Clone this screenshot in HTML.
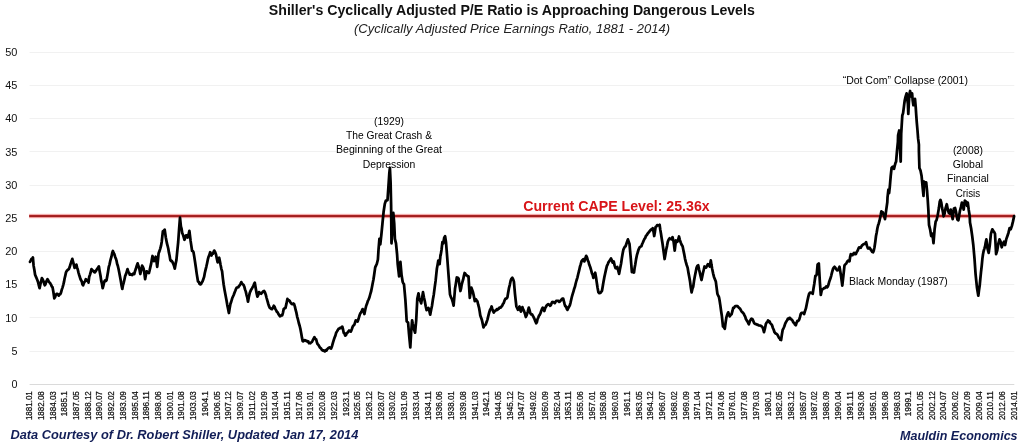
<!DOCTYPE html>
<html lang="en"><head><meta charset="utf-8"><title>Shiller CAPE</title>
<style>
html,body{margin:0;padding:0;background:#fff;}
body{width:1022px;height:444px;overflow:hidden;}
svg{display:block;font-family:"Liberation Sans",sans-serif;}
.ax{font-size:11.3px;fill:#111;}
.xl{font-size:9.3px;fill:#111;stroke:#111;stroke-width:0.25px;}
.an{font-size:11px;fill:#000;text-anchor:middle;}
.ttl{font-size:14.3px;font-weight:bold;fill:#111;}
.sub{font-size:12.3px;font-style:italic;fill:#222;}
.cape{font-size:14.3px;font-weight:bold;fill:#d81418;}
.ft{font-size:13.2px;font-weight:bold;font-style:italic;fill:#121e57;}
</style></head><body>
<svg width="1022" height="444" viewBox="0 0 1022 444">
<rect width="1022" height="444" fill="#ffffff"/>
<line x1="29.6" y1="351.5" x2="1014.3" y2="351.5" stroke="#f1f1f1" stroke-width="1"/>
<line x1="29.6" y1="317.5" x2="1014.3" y2="317.5" stroke="#f1f1f1" stroke-width="1"/>
<line x1="29.6" y1="284.5" x2="1014.3" y2="284.5" stroke="#f1f1f1" stroke-width="1"/>
<line x1="29.6" y1="251.5" x2="1014.3" y2="251.5" stroke="#f1f1f1" stroke-width="1"/>
<line x1="29.6" y1="218.5" x2="1014.3" y2="218.5" stroke="#f1f1f1" stroke-width="1"/>
<line x1="29.6" y1="185.5" x2="1014.3" y2="185.5" stroke="#f1f1f1" stroke-width="1"/>
<line x1="29.6" y1="151.5" x2="1014.3" y2="151.5" stroke="#f1f1f1" stroke-width="1"/>
<line x1="29.6" y1="118.5" x2="1014.3" y2="118.5" stroke="#f1f1f1" stroke-width="1"/>
<line x1="29.6" y1="85.5" x2="1014.3" y2="85.5" stroke="#f1f1f1" stroke-width="1"/>
<line x1="29.6" y1="52.5" x2="1014.3" y2="52.5" stroke="#f1f1f1" stroke-width="1"/>
<line x1="29.6" y1="384.5" x2="1014.3" y2="384.5" stroke="#dadada" stroke-width="1"/>
<text class="ax" x="17.4" y="387.9" text-anchor="end" textLength="6.0" lengthAdjust="spacingAndGlyphs">0</text>
<text class="ax" x="17.4" y="354.7" text-anchor="end" textLength="6.0" lengthAdjust="spacingAndGlyphs">5</text>
<text class="ax" x="17.4" y="321.5" text-anchor="end" textLength="12.2" lengthAdjust="spacingAndGlyphs">10</text>
<text class="ax" x="17.4" y="288.3" text-anchor="end" textLength="12.2" lengthAdjust="spacingAndGlyphs">15</text>
<text class="ax" x="17.4" y="255.1" text-anchor="end" textLength="12.2" lengthAdjust="spacingAndGlyphs">20</text>
<text class="ax" x="17.4" y="221.9" text-anchor="end" textLength="12.2" lengthAdjust="spacingAndGlyphs">25</text>
<text class="ax" x="17.4" y="188.8" text-anchor="end" textLength="12.2" lengthAdjust="spacingAndGlyphs">30</text>
<text class="ax" x="17.4" y="155.6" text-anchor="end" textLength="12.2" lengthAdjust="spacingAndGlyphs">35</text>
<text class="ax" x="17.4" y="122.4" text-anchor="end" textLength="12.2" lengthAdjust="spacingAndGlyphs">40</text>
<text class="ax" x="17.4" y="89.2" text-anchor="end" textLength="12.2" lengthAdjust="spacingAndGlyphs">45</text>
<text class="ax" x="17.4" y="56.0" text-anchor="end" textLength="12.2" lengthAdjust="spacingAndGlyphs">50</text>
<text class="xl" transform="translate(32.05,391.2) rotate(-90)" text-anchor="end" textLength="28.9" lengthAdjust="spacingAndGlyphs">1881.01</text>
<text class="xl" transform="translate(43.77,391.2) rotate(-90)" text-anchor="end" textLength="28.9" lengthAdjust="spacingAndGlyphs">1882.08</text>
<text class="xl" transform="translate(55.50,391.2) rotate(-90)" text-anchor="end" textLength="28.9" lengthAdjust="spacingAndGlyphs">1884.03</text>
<text class="xl" transform="translate(67.22,391.2) rotate(-90)" text-anchor="end" textLength="25.0" lengthAdjust="spacingAndGlyphs">1885.1</text>
<text class="xl" transform="translate(78.94,391.2) rotate(-90)" text-anchor="end" textLength="28.9" lengthAdjust="spacingAndGlyphs">1887.05</text>
<text class="xl" transform="translate(90.66,391.2) rotate(-90)" text-anchor="end" textLength="28.9" lengthAdjust="spacingAndGlyphs">1888.12</text>
<text class="xl" transform="translate(102.39,391.2) rotate(-90)" text-anchor="end" textLength="28.9" lengthAdjust="spacingAndGlyphs">1890.07</text>
<text class="xl" transform="translate(114.11,391.2) rotate(-90)" text-anchor="end" textLength="28.9" lengthAdjust="spacingAndGlyphs">1892.02</text>
<text class="xl" transform="translate(125.83,391.2) rotate(-90)" text-anchor="end" textLength="28.9" lengthAdjust="spacingAndGlyphs">1893.09</text>
<text class="xl" transform="translate(137.55,391.2) rotate(-90)" text-anchor="end" textLength="28.9" lengthAdjust="spacingAndGlyphs">1895.04</text>
<text class="xl" transform="translate(149.28,391.2) rotate(-90)" text-anchor="end" textLength="28.9" lengthAdjust="spacingAndGlyphs">1896.11</text>
<text class="xl" transform="translate(161.00,391.2) rotate(-90)" text-anchor="end" textLength="28.9" lengthAdjust="spacingAndGlyphs">1898.06</text>
<text class="xl" transform="translate(172.72,391.2) rotate(-90)" text-anchor="end" textLength="28.9" lengthAdjust="spacingAndGlyphs">1900.01</text>
<text class="xl" transform="translate(184.44,391.2) rotate(-90)" text-anchor="end" textLength="28.9" lengthAdjust="spacingAndGlyphs">1901.08</text>
<text class="xl" transform="translate(196.17,391.2) rotate(-90)" text-anchor="end" textLength="28.9" lengthAdjust="spacingAndGlyphs">1903.03</text>
<text class="xl" transform="translate(207.89,391.2) rotate(-90)" text-anchor="end" textLength="25.0" lengthAdjust="spacingAndGlyphs">1904.1</text>
<text class="xl" transform="translate(219.61,391.2) rotate(-90)" text-anchor="end" textLength="28.9" lengthAdjust="spacingAndGlyphs">1906.05</text>
<text class="xl" transform="translate(231.33,391.2) rotate(-90)" text-anchor="end" textLength="28.9" lengthAdjust="spacingAndGlyphs">1907.12</text>
<text class="xl" transform="translate(243.06,391.2) rotate(-90)" text-anchor="end" textLength="28.9" lengthAdjust="spacingAndGlyphs">1909.07</text>
<text class="xl" transform="translate(254.78,391.2) rotate(-90)" text-anchor="end" textLength="28.9" lengthAdjust="spacingAndGlyphs">1911.02</text>
<text class="xl" transform="translate(266.50,391.2) rotate(-90)" text-anchor="end" textLength="28.9" lengthAdjust="spacingAndGlyphs">1912.09</text>
<text class="xl" transform="translate(278.22,391.2) rotate(-90)" text-anchor="end" textLength="28.9" lengthAdjust="spacingAndGlyphs">1914.04</text>
<text class="xl" transform="translate(289.95,391.2) rotate(-90)" text-anchor="end" textLength="28.9" lengthAdjust="spacingAndGlyphs">1915.11</text>
<text class="xl" transform="translate(301.67,391.2) rotate(-90)" text-anchor="end" textLength="28.9" lengthAdjust="spacingAndGlyphs">1917.06</text>
<text class="xl" transform="translate(313.39,391.2) rotate(-90)" text-anchor="end" textLength="28.9" lengthAdjust="spacingAndGlyphs">1919.01</text>
<text class="xl" transform="translate(325.12,391.2) rotate(-90)" text-anchor="end" textLength="28.9" lengthAdjust="spacingAndGlyphs">1920.08</text>
<text class="xl" transform="translate(336.84,391.2) rotate(-90)" text-anchor="end" textLength="28.9" lengthAdjust="spacingAndGlyphs">1922.03</text>
<text class="xl" transform="translate(348.56,391.2) rotate(-90)" text-anchor="end" textLength="25.0" lengthAdjust="spacingAndGlyphs">1923.1</text>
<text class="xl" transform="translate(360.28,391.2) rotate(-90)" text-anchor="end" textLength="28.9" lengthAdjust="spacingAndGlyphs">1925.05</text>
<text class="xl" transform="translate(372.01,391.2) rotate(-90)" text-anchor="end" textLength="28.9" lengthAdjust="spacingAndGlyphs">1926.12</text>
<text class="xl" transform="translate(383.73,391.2) rotate(-90)" text-anchor="end" textLength="28.9" lengthAdjust="spacingAndGlyphs">1928.07</text>
<text class="xl" transform="translate(395.45,391.2) rotate(-90)" text-anchor="end" textLength="28.9" lengthAdjust="spacingAndGlyphs">1930.02</text>
<text class="xl" transform="translate(407.17,391.2) rotate(-90)" text-anchor="end" textLength="28.9" lengthAdjust="spacingAndGlyphs">1931.09</text>
<text class="xl" transform="translate(418.90,391.2) rotate(-90)" text-anchor="end" textLength="28.9" lengthAdjust="spacingAndGlyphs">1933.04</text>
<text class="xl" transform="translate(430.62,391.2) rotate(-90)" text-anchor="end" textLength="28.9" lengthAdjust="spacingAndGlyphs">1934.11</text>
<text class="xl" transform="translate(442.34,391.2) rotate(-90)" text-anchor="end" textLength="28.9" lengthAdjust="spacingAndGlyphs">1936.06</text>
<text class="xl" transform="translate(454.06,391.2) rotate(-90)" text-anchor="end" textLength="28.9" lengthAdjust="spacingAndGlyphs">1938.01</text>
<text class="xl" transform="translate(465.79,391.2) rotate(-90)" text-anchor="end" textLength="28.9" lengthAdjust="spacingAndGlyphs">1939.08</text>
<text class="xl" transform="translate(477.51,391.2) rotate(-90)" text-anchor="end" textLength="28.9" lengthAdjust="spacingAndGlyphs">1941.03</text>
<text class="xl" transform="translate(489.23,391.2) rotate(-90)" text-anchor="end" textLength="25.0" lengthAdjust="spacingAndGlyphs">1942.1</text>
<text class="xl" transform="translate(500.95,391.2) rotate(-90)" text-anchor="end" textLength="28.9" lengthAdjust="spacingAndGlyphs">1944.05</text>
<text class="xl" transform="translate(512.68,391.2) rotate(-90)" text-anchor="end" textLength="28.9" lengthAdjust="spacingAndGlyphs">1945.12</text>
<text class="xl" transform="translate(524.40,391.2) rotate(-90)" text-anchor="end" textLength="28.9" lengthAdjust="spacingAndGlyphs">1947.07</text>
<text class="xl" transform="translate(536.12,391.2) rotate(-90)" text-anchor="end" textLength="28.9" lengthAdjust="spacingAndGlyphs">1949.02</text>
<text class="xl" transform="translate(547.85,391.2) rotate(-90)" text-anchor="end" textLength="28.9" lengthAdjust="spacingAndGlyphs">1950.09</text>
<text class="xl" transform="translate(559.57,391.2) rotate(-90)" text-anchor="end" textLength="28.9" lengthAdjust="spacingAndGlyphs">1952.04</text>
<text class="xl" transform="translate(571.29,391.2) rotate(-90)" text-anchor="end" textLength="28.9" lengthAdjust="spacingAndGlyphs">1953.11</text>
<text class="xl" transform="translate(583.01,391.2) rotate(-90)" text-anchor="end" textLength="28.9" lengthAdjust="spacingAndGlyphs">1955.06</text>
<text class="xl" transform="translate(594.74,391.2) rotate(-90)" text-anchor="end" textLength="28.9" lengthAdjust="spacingAndGlyphs">1957.01</text>
<text class="xl" transform="translate(606.46,391.2) rotate(-90)" text-anchor="end" textLength="28.9" lengthAdjust="spacingAndGlyphs">1958.08</text>
<text class="xl" transform="translate(618.18,391.2) rotate(-90)" text-anchor="end" textLength="28.9" lengthAdjust="spacingAndGlyphs">1960.03</text>
<text class="xl" transform="translate(629.90,391.2) rotate(-90)" text-anchor="end" textLength="25.0" lengthAdjust="spacingAndGlyphs">1961.1</text>
<text class="xl" transform="translate(641.63,391.2) rotate(-90)" text-anchor="end" textLength="28.9" lengthAdjust="spacingAndGlyphs">1963.05</text>
<text class="xl" transform="translate(653.35,391.2) rotate(-90)" text-anchor="end" textLength="28.9" lengthAdjust="spacingAndGlyphs">1964.12</text>
<text class="xl" transform="translate(665.07,391.2) rotate(-90)" text-anchor="end" textLength="28.9" lengthAdjust="spacingAndGlyphs">1966.07</text>
<text class="xl" transform="translate(676.79,391.2) rotate(-90)" text-anchor="end" textLength="28.9" lengthAdjust="spacingAndGlyphs">1968.02</text>
<text class="xl" transform="translate(688.52,391.2) rotate(-90)" text-anchor="end" textLength="28.9" lengthAdjust="spacingAndGlyphs">1969.09</text>
<text class="xl" transform="translate(700.24,391.2) rotate(-90)" text-anchor="end" textLength="28.9" lengthAdjust="spacingAndGlyphs">1971.04</text>
<text class="xl" transform="translate(711.96,391.2) rotate(-90)" text-anchor="end" textLength="28.9" lengthAdjust="spacingAndGlyphs">1972.11</text>
<text class="xl" transform="translate(723.68,391.2) rotate(-90)" text-anchor="end" textLength="28.9" lengthAdjust="spacingAndGlyphs">1974.06</text>
<text class="xl" transform="translate(735.41,391.2) rotate(-90)" text-anchor="end" textLength="28.9" lengthAdjust="spacingAndGlyphs">1976.01</text>
<text class="xl" transform="translate(747.13,391.2) rotate(-90)" text-anchor="end" textLength="28.9" lengthAdjust="spacingAndGlyphs">1977.08</text>
<text class="xl" transform="translate(758.85,391.2) rotate(-90)" text-anchor="end" textLength="28.9" lengthAdjust="spacingAndGlyphs">1979.03</text>
<text class="xl" transform="translate(770.58,391.2) rotate(-90)" text-anchor="end" textLength="25.0" lengthAdjust="spacingAndGlyphs">1980.1</text>
<text class="xl" transform="translate(782.30,391.2) rotate(-90)" text-anchor="end" textLength="28.9" lengthAdjust="spacingAndGlyphs">1982.05</text>
<text class="xl" transform="translate(794.02,391.2) rotate(-90)" text-anchor="end" textLength="28.9" lengthAdjust="spacingAndGlyphs">1983.12</text>
<text class="xl" transform="translate(805.74,391.2) rotate(-90)" text-anchor="end" textLength="28.9" lengthAdjust="spacingAndGlyphs">1985.07</text>
<text class="xl" transform="translate(817.47,391.2) rotate(-90)" text-anchor="end" textLength="28.9" lengthAdjust="spacingAndGlyphs">1987.02</text>
<text class="xl" transform="translate(829.19,391.2) rotate(-90)" text-anchor="end" textLength="28.9" lengthAdjust="spacingAndGlyphs">1988.09</text>
<text class="xl" transform="translate(840.91,391.2) rotate(-90)" text-anchor="end" textLength="28.9" lengthAdjust="spacingAndGlyphs">1990.04</text>
<text class="xl" transform="translate(852.63,391.2) rotate(-90)" text-anchor="end" textLength="28.9" lengthAdjust="spacingAndGlyphs">1991.11</text>
<text class="xl" transform="translate(864.36,391.2) rotate(-90)" text-anchor="end" textLength="28.9" lengthAdjust="spacingAndGlyphs">1993.06</text>
<text class="xl" transform="translate(876.08,391.2) rotate(-90)" text-anchor="end" textLength="28.9" lengthAdjust="spacingAndGlyphs">1995.01</text>
<text class="xl" transform="translate(887.80,391.2) rotate(-90)" text-anchor="end" textLength="28.9" lengthAdjust="spacingAndGlyphs">1996.08</text>
<text class="xl" transform="translate(899.52,391.2) rotate(-90)" text-anchor="end" textLength="28.9" lengthAdjust="spacingAndGlyphs">1998.03</text>
<text class="xl" transform="translate(911.25,391.2) rotate(-90)" text-anchor="end" textLength="25.0" lengthAdjust="spacingAndGlyphs">1999.1</text>
<text class="xl" transform="translate(922.97,391.2) rotate(-90)" text-anchor="end" textLength="28.9" lengthAdjust="spacingAndGlyphs">2001.05</text>
<text class="xl" transform="translate(934.69,391.2) rotate(-90)" text-anchor="end" textLength="28.9" lengthAdjust="spacingAndGlyphs">2002.12</text>
<text class="xl" transform="translate(946.41,391.2) rotate(-90)" text-anchor="end" textLength="28.9" lengthAdjust="spacingAndGlyphs">2004.07</text>
<text class="xl" transform="translate(958.14,391.2) rotate(-90)" text-anchor="end" textLength="28.9" lengthAdjust="spacingAndGlyphs">2006.02</text>
<text class="xl" transform="translate(969.86,391.2) rotate(-90)" text-anchor="end" textLength="28.9" lengthAdjust="spacingAndGlyphs">2007.09</text>
<text class="xl" transform="translate(981.58,391.2) rotate(-90)" text-anchor="end" textLength="28.9" lengthAdjust="spacingAndGlyphs">2009.04</text>
<text class="xl" transform="translate(993.30,391.2) rotate(-90)" text-anchor="end" textLength="28.9" lengthAdjust="spacingAndGlyphs">2010.11</text>
<text class="xl" transform="translate(1005.03,391.2) rotate(-90)" text-anchor="end" textLength="28.9" lengthAdjust="spacingAndGlyphs">2012.06</text>
<text class="xl" transform="translate(1016.75,391.2) rotate(-90)" text-anchor="end" textLength="28.9" lengthAdjust="spacingAndGlyphs">2014.01</text>
<rect x="29.1" y="213" width="985.9" height="1" fill="#fff2f2"/>
<rect x="29.1" y="214" width="985.9" height="1" fill="#f2acac"/>
<rect x="29.1" y="215" width="985.9" height="1" fill="#aa2222"/>
<rect x="29.1" y="216" width="985.9" height="1" fill="#a01e1e"/>
<rect x="29.1" y="217" width="985.9" height="1" fill="#f09c9c"/>
<rect x="29.1" y="218" width="985.9" height="1" fill="#ffeeee"/>
<path d="M30.0 261.9 L30.7 260.5 L31.4 259.1 L32.2 258.7 L32.9 257.4 L33.6 265.7 L34.3 269.6 L35.1 274.7 L35.9 276.6 L36.6 278.3 L37.4 280.3 L38.1 282.3 L38.9 285.6 L39.6 288.2 L40.4 284.2 L41.1 281.4 L41.9 278.1 L42.6 279.3 L43.4 281.1 L44.1 283.4 L44.8 285.3 L45.5 284.2 L46.2 281.7 L46.9 280.3 L47.5 279.2 L48.3 280.5 L49.0 282.1 L49.8 282.6 L50.5 283.8 L51.1 284.7 L51.8 286.6 L52.5 287.1 L53.4 292.1 L54.3 298.3 L55.0 297.3 L55.8 295.1 L56.5 293.8 L57.3 293.9 L58.0 294.5 L58.8 295.6 L59.5 294.4 L60.3 294.1 L61.0 292.7 L61.8 289.6 L62.5 287.6 L63.3 284.8 L64.0 281.9 L64.6 278.5 L65.3 275.6 L66.0 272.4 L66.7 271.0 L67.5 270.1 L68.2 269.5 L68.9 269.1 L69.6 267.3 L70.3 264.9 L71.0 262.7 L71.6 261.1 L72.3 258.9 L73.1 261.9 L73.8 264.7 L74.6 267.9 L75.5 266.7 L76.4 264.6 L77.0 267.4 L77.7 269.3 L78.4 272.3 L79.1 274.7 L79.7 276.5 L80.4 278.8 L81.1 280.3 L81.8 281.5 L82.4 284.2 L83.1 285.3 L83.8 283.2 L84.5 282.1 L85.1 281.1 L85.8 279.2 L86.5 279.6 L87.2 280.9 L87.9 281.1 L88.5 282.6 L89.2 276.9 L90.0 274.6 L90.7 272.1 L91.5 269.1 L92.1 269.8 L92.8 270.9 L93.5 270.8 L94.2 272.0 L94.8 272.4 L95.6 271.4 L96.3 270.3 L97.1 269.1 L98.0 267.7 L98.9 266.4 L99.7 271.6 L100.5 275.8 L101.2 280.6 L102.0 284.0 L102.7 288.2 L103.5 285.1 L104.3 281.5 L105.0 280.5 L105.8 281.0 L106.5 280.3 L107.3 276.0 L108.0 272.0 L108.8 266.8 L109.5 264.6 L110.2 261.3 L110.8 258.8 L111.5 256.5 L112.2 253.0 L112.9 251.0 L113.6 252.9 L114.4 254.3 L115.1 256.7 L115.8 258.4 L116.5 260.6 L117.1 263.8 L117.8 265.7 L118.5 268.8 L119.3 272.7 L120.0 276.5 L120.7 280.3 L121.5 285.1 L122.3 288.9 L123.0 285.0 L123.8 282.3 L124.5 279.2 L125.2 275.8 L126.0 274.1 L126.7 271.8 L127.5 269.1 L128.2 271.5 L129.0 272.5 L129.8 274.7 L130.4 274.5 L131.0 274.3 L131.7 274.9 L132.3 275.0 L133.0 273.7 L133.6 273.7 L134.3 274.0 L135.0 271.2 L135.8 269.1 L136.7 265.9 L137.6 263.4 L138.5 266.2 L139.4 269.1 L140.3 274.0 L141.2 270.0 L142.1 265.7 L142.9 267.0 L143.7 269.1 L144.4 273.4 L145.1 279.2 L145.9 275.1 L146.6 271.3 L147.4 271.7 L148.1 272.6 L148.9 273.1 L149.6 270.5 L150.4 266.9 L151.2 263.4 L151.8 259.7 L152.5 256.0 L153.2 258.8 L153.9 261.2 L154.8 259.2 L155.7 256.7 L156.4 261.1 L157.2 266.8 L157.9 260.6 L158.6 253.3 L159.4 251.4 L160.2 248.8 L161.0 245.9 L161.7 242.0 L162.9 231.2 L163.8 230.8 L164.7 229.6 L165.8 237.5 L166.9 243.2 L167.6 245.8 L168.3 248.8 L168.9 252.4 L169.6 255.7 L170.3 260.1 L171.0 261.0 L171.8 260.9 L172.6 262.3 L173.3 263.8 L174.1 266.1 L174.8 268.6 L175.6 263.9 L176.4 260.1 L177.3 250.8 L178.2 242.0 L179.1 229.2 L180.0 217.7 L180.9 226.3 L181.6 228.9 L182.2 233.0 L183.0 234.8 L183.7 237.0 L184.5 239.8 L185.3 237.3 L186.1 235.3 L186.9 235.7 L187.6 237.5 L188.5 234.7 L189.4 230.8 L190.6 240.9 L191.4 246.1 L192.1 251.0 L192.8 251.1 L193.5 252.2 L194.3 256.9 L195.1 262.3 L195.9 267.7 L196.7 273.6 L197.3 277.3 L198.0 281.5 L198.8 281.9 L199.5 283.9 L200.3 284.4 L201.0 284.1 L201.8 282.4 L202.5 281.5 L203.3 279.2 L204.1 276.9 L204.8 273.0 L205.6 269.6 L206.3 266.8 L207.1 263.2 L207.8 259.7 L208.6 256.7 L209.4 254.9 L210.2 252.2 L210.8 253.4 L211.5 255.5 L212.2 253.6 L212.9 253.7 L213.6 251.9 L214.2 250.6 L215.1 252.0 L216.0 254.4 L216.8 258.4 L217.6 262.3 L218.4 259.4 L219.2 257.8 L219.9 261.2 L220.5 264.6 L221.3 268.6 L222.1 271.3 L222.9 278.6 L223.7 284.8 L224.6 290.2 L225.5 295.0 L226.4 299.7 L227.3 305.1 L228.1 308.9 L228.9 313.0 L229.7 308.0 L230.4 304.0 L231.3 301.5 L232.2 298.3 L233.0 296.5 L233.7 295.0 L234.5 292.7 L235.3 290.8 L236.0 288.9 L236.8 287.5 L237.5 287.4 L238.3 287.2 L239.0 286.0 L239.8 285.2 L240.5 283.8 L241.3 282.1 L242.0 283.5 L242.8 284.3 L243.5 284.8 L244.3 286.7 L245.0 289.4 L245.8 291.6 L246.5 294.8 L247.3 297.7 L248.0 301.7 L248.9 296.6 L249.8 292.7 L250.6 290.9 L251.3 289.4 L252.1 288.2 L252.7 287.1 L253.4 286.0 L254.1 283.9 L254.8 282.6 L255.8 288.8 L256.6 293.3 L257.4 296.7 L258.2 295.1 L259.0 292.2 L259.7 293.3 L260.5 293.0 L261.2 293.7 L262.0 292.7 L262.7 292.0 L263.4 291.3 L264.1 291.0 L264.9 292.3 L265.7 294.4 L266.6 298.0 L267.5 301.2 L268.3 304.0 L269.0 306.2 L269.8 307.9 L270.5 308.3 L271.3 308.9 L272.0 309.1 L272.9 307.8 L273.8 305.7 L274.6 306.8 L275.4 309.1 L276.2 310.4 L276.9 311.9 L277.7 312.4 L278.4 314.1 L279.2 315.3 L279.9 316.3 L280.7 315.9 L281.4 315.2 L282.2 315.4 L283.0 312.6 L283.7 309.1 L284.6 308.3 L285.5 307.9 L286.4 303.9 L287.4 298.9 L288.1 300.2 L288.9 300.1 L289.7 301.0 L290.4 302.2 L291.2 303.4 L291.9 304.2 L292.6 304.1 L293.4 303.5 L294.1 304.1 L294.9 306.6 L295.7 310.2 L296.4 312.7 L297.2 316.8 L297.9 319.2 L298.8 323.0 L299.7 326.0 L300.5 329.4 L301.3 333.8 L302.0 337.9 L302.7 341.1 L303.3 341.4 L304.0 340.7 L304.7 340.2 L305.4 340.3 L306.2 341.0 L306.9 340.8 L307.6 341.7 L308.3 341.4 L309.0 343.2 L309.7 343.1 L310.3 343.3 L311.1 342.4 L311.8 342.1 L312.6 340.6 L313.5 338.8 L314.4 337.2 L315.3 338.9 L316.2 339.5 L316.9 342.2 L317.5 344.0 L318.3 344.7 L319.0 345.9 L319.8 347.4 L320.5 348.0 L321.3 348.8 L322.0 350.1 L322.8 350.5 L323.5 350.4 L324.2 351.0 L325.0 351.4 L325.7 350.1 L326.5 350.5 L327.2 349.2 L328.0 348.4 L328.7 347.9 L329.5 347.4 L330.3 348.0 L331.1 348.5 L332.0 346.2 L332.9 342.9 L333.8 339.9 L334.7 337.2 L335.4 335.6 L336.2 332.7 L337.0 331.4 L337.7 330.2 L338.5 328.9 L339.2 328.7 L340.0 327.8 L340.7 328.2 L341.5 327.3 L342.3 326.6 L343.0 329.2 L343.7 332.7 L344.5 333.5 L345.2 335.6 L346.0 335.1 L346.7 333.2 L347.5 332.7 L348.3 331.6 L349.1 330.5 L350.0 331.3 L350.9 331.6 L351.8 329.2 L352.7 326.6 L353.5 325.5 L354.3 324.8 L355.0 322.6 L355.8 320.3 L356.7 321.0 L357.6 321.5 L358.5 319.0 L359.4 315.8 L360.2 313.6 L361.0 312.4 L361.8 310.8 L362.6 309.1 L363.5 311.2 L364.4 314.0 L365.3 309.5 L366.2 305.7 L367.0 303.8 L367.8 301.2 L368.6 299.5 L369.3 297.8 L370.2 294.5 L371.2 291.0 L371.9 287.5 L372.7 283.2 L373.4 279.8 L374.1 275.3 L375.2 267.4 L376.0 265.6 L376.8 264.0 L377.9 259.5 L378.5 250.0 L379.4 238.8 L380.3 244.4 L381.4 234.3 L382.5 223.0 L383.6 211.8 L384.8 203.9 L385.9 200.5 L386.7 200.4 L387.5 200.1 L388.4 187.0 L389.3 173.5 L389.9 167.9 L390.6 182.5 L391.1 205.0 L391.5 243.3 L392.4 227.5 L393.3 212.9 L394.2 223.0 L394.9 238.8 L396.0 243.3 L397.1 254.5 L397.7 264.0 L398.4 270.2 L399.1 276.4 L399.8 269.1 L400.4 261.8 L401.6 275.3 L402.7 282.0 L403.4 283.4 L404.0 284.3 L404.7 292.1 L405.4 300.1 L406.1 310.8 L406.7 321.5 L407.4 322.0 L408.1 322.6 L409.0 333.8 L409.7 341.2 L410.3 347.4 L411.2 331.6 L412.1 320.3 L412.8 324.0 L413.5 327.1 L414.3 330.4 L415.1 332.7 L416.2 320.3 L417.3 298.9 L418.5 293.3 L419.1 297.3 L419.8 300.1 L420.5 301.4 L421.2 303.4 L422.1 297.9 L423.0 292.2 L423.9 297.3 L424.8 301.2 L425.7 306.2 L426.6 310.2 L427.5 308.6 L428.4 307.9 L429.3 310.8 L430.2 314.7 L431.1 310.1 L432.0 305.7 L432.9 299.5 L433.8 294.4 L434.7 287.3 L435.6 280.9 L436.3 274.1 L436.9 268.5 L437.6 264.8 L438.3 260.6 L439.0 262.7 L439.6 264.0 L440.5 255.0 L440.6 255.6 L441.5 250.0 L442.4 242.1 L443.3 243.3 L444.2 237.6 L445.1 236.1 L446.0 242.1 L446.9 253.4 L447.7 264.0 L448.9 279.8 L450.0 294.4 L450.9 297.2 L451.8 298.9 L452.7 301.8 L453.6 305.7 L454.3 297.5 L455.0 288.8 L455.9 283.4 L456.8 277.5 L457.7 277.6 L458.6 278.7 L459.5 285.4 L460.4 291.0 L461.0 288.7 L461.7 284.6 L462.4 282.0 L463.1 279.7 L463.9 275.9 L464.6 273.0 L465.4 273.8 L466.1 275.2 L466.9 275.3 L467.7 276.3 L468.5 276.4 L469.1 286.6 L469.8 297.8 L470.6 292.6 L471.4 287.7 L472.2 289.9 L473.0 292.2 L473.9 296.4 L474.8 301.2 L475.1 299.0 L475.9 299.3 L476.6 300.3 L477.4 301.3 L478.2 304.7 L479.0 307.6 L479.6 310.9 L480.3 315.5 L481.1 317.8 L481.9 320.0 L482.7 323.6 L483.5 327.4 L484.2 325.8 L485.0 325.2 L485.7 324.5 L486.6 322.1 L487.5 319.3 L488.4 315.7 L489.3 312.1 L490.1 309.6 L490.8 309.0 L491.6 306.5 L492.3 308.9 L493.1 311.2 L493.8 312.5 L494.6 311.2 L495.3 310.7 L496.1 310.3 L496.8 309.2 L497.4 309.9 L498.1 308.8 L498.8 308.7 L499.5 307.6 L500.1 307.5 L500.8 307.6 L501.5 306.5 L502.2 305.8 L503.0 303.9 L503.7 303.1 L504.6 300.3 L505.5 298.6 L506.4 298.6 L507.4 297.4 L508.1 293.0 L508.9 288.4 L509.8 284.8 L510.7 280.5 L511.5 278.6 L512.3 277.8 L513.1 279.1 L513.9 281.7 L515.0 294.1 L515.7 300.5 L516.4 306.5 L517.1 308.0 L517.9 309.8 L518.7 307.5 L519.5 306.5 L520.2 309.7 L520.9 311.6 L521.7 309.6 L522.4 307.1 L523.2 309.5 L524.0 311.0 L524.9 313.4 L525.8 317.0 L526.7 315.1 L527.6 312.1 L528.8 307.6 L529.5 309.8 L530.3 313.2 L531.2 314.3 L532.1 314.3 L532.9 315.8 L533.6 317.1 L534.4 318.8 L535.3 321.2 L536.2 323.3 L536.9 322.1 L537.5 319.3 L538.2 317.7 L539.0 315.7 L539.7 314.8 L540.5 313.2 L541.2 311.0 L542.0 308.9 L542.7 307.6 L543.5 308.8 L544.3 311.0 L545.2 308.1 L546.1 306.5 L546.8 305.3 L547.6 304.7 L548.3 304.2 L549.3 304.7 L550.2 305.8 L550.9 304.9 L551.7 302.9 L552.4 301.9 L553.2 302.3 L553.9 302.2 L554.7 303.1 L555.4 302.1 L556.2 300.9 L556.9 300.8 L557.7 300.8 L558.4 300.9 L559.2 301.9 L559.9 301.5 L560.7 300.5 L561.4 299.7 L562.3 298.7 L563.2 298.6 L563.9 301.4 L564.6 304.2 L565.3 306.2 L566.0 306.5 L566.8 308.9 L567.5 309.8 L568.2 308.2 L569.0 306.8 L569.8 305.3 L570.5 302.8 L571.3 299.2 L572.0 296.3 L572.8 293.7 L573.5 291.3 L574.3 288.4 L575.0 286.5 L575.8 283.0 L576.5 280.5 L577.4 277.6 L578.3 273.8 L579.1 270.7 L579.9 267.0 L580.7 264.4 L581.5 261.4 L582.4 260.1 L583.3 259.1 L584.4 261.4 L585.3 258.4 L586.2 255.8 L587.0 257.4 L587.8 260.3 L588.6 262.0 L589.3 264.8 L590.2 267.0 L591.2 270.4 L591.9 273.2 L592.7 275.0 L593.4 277.8 L594.3 274.8 L595.2 272.7 L596.0 277.2 L596.8 282.8 L597.6 288.0 L598.4 292.3 L599.3 293.1 L600.2 292.9 L601.1 292.1 L602.0 290.7 L602.8 285.9 L603.5 281.7 L604.3 277.4 L605.1 273.8 L606.0 269.6 L606.9 265.9 L607.7 264.3 L608.4 262.4 L609.2 261.4 L610.1 259.9 L611.0 258.5 L611.8 260.2 L612.6 262.5 L613.7 261.4 L614.6 265.4 L615.5 268.2 L616.4 268.3 L617.3 267.0 L618.2 270.5 L619.1 273.8 L619.8 270.1 L620.4 267.0 L621.1 263.5 L621.8 258.6 L622.6 253.8 L623.4 249.6 L624.1 248.2 L624.9 246.6 L625.6 246.2 L626.4 243.8 L627.1 241.6 L627.9 239.4 L628.7 241.7 L629.5 243.9 L630.1 250.8 L630.8 258.6 L631.9 272.1 L632.6 272.2 L633.3 271.7 L634.0 272.5 L634.6 268.0 L635.3 264.2 L636.1 259.1 L636.9 255.2 L637.6 252.8 L638.4 250.0 L639.1 248.4 L639.9 247.0 L640.6 246.7 L641.4 246.2 L642.2 243.9 L642.9 242.5 L643.7 240.5 L644.4 239.1 L645.2 237.9 L645.9 236.0 L646.7 235.1 L647.4 234.1 L648.2 232.7 L648.9 232.4 L649.7 231.0 L650.4 230.4 L651.2 229.4 L651.9 229.6 L652.7 228.2 L653.5 231.6 L654.2 236.0 L654.9 231.9 L655.6 227.0 L656.3 226.6 L657.1 225.2 L657.8 225.2 L658.7 225.5 L659.6 224.8 L660.3 229.8 L661.0 233.8 L661.7 238.5 L662.4 242.8 L663.5 250.7 L664.6 259.0 L665.4 254.6 L666.2 249.6 L667.0 246.1 L667.8 241.7 L668.7 239.5 L669.6 238.3 L670.5 238.9 L671.4 239.4 L672.5 237.2 L673.6 241.7 L674.7 250.7 L675.9 240.5 L676.7 241.1 L677.4 241.7 L678.2 239.6 L679.0 236.5 L679.9 240.1 L680.8 242.8 L681.7 244.9 L682.6 246.2 L683.4 250.2 L684.2 254.1 L685.0 258.6 L685.8 261.9 L686.7 265.0 L687.6 267.6 L688.5 272.9 L689.4 277.7 L690.1 281.8 L690.7 286.7 L691.6 292.4 L692.4 288.9 L693.2 286.7 L694.0 281.1 L694.8 276.6 L695.7 271.9 L696.6 267.6 L697.4 265.9 L698.2 265.3 L699.0 269.2 L699.7 272.1 L700.6 276.1 L701.5 280.0 L702.2 276.8 L702.9 273.2 L703.7 270.0 L704.5 266.5 L705.3 267.3 L706.1 267.6 L707.0 265.9 L707.9 264.2 L708.8 264.6 L709.7 266.5 L710.8 260.4 L711.5 265.1 L712.2 269.0 L713.1 273.3 L714.0 276.9 L714.9 279.2 L715.8 281.4 L716.6 287.6 L717.4 293.8 L718.2 295.7 L719.0 297.2 L719.6 300.5 L720.3 305.1 L721.1 311.0 L721.9 316.3 L723.0 326.5 L723.9 327.2 L724.8 328.7 L725.6 322.5 L726.4 317.4 L727.3 314.5 L728.2 312.3 L729.0 314.6 L729.8 316.3 L730.7 314.8 L731.6 314.1 L732.4 311.2 L733.2 307.8 L733.9 307.9 L734.7 306.7 L735.4 306.2 L736.2 306.0 L736.9 306.2 L737.7 306.2 L738.4 307.2 L739.2 308.1 L739.9 308.4 L740.7 309.9 L741.4 311.2 L742.2 312.3 L742.9 312.6 L743.7 313.7 L744.4 315.2 L745.2 316.6 L745.9 319.0 L746.7 320.4 L747.4 321.4 L748.2 323.0 L748.9 324.2 L749.8 321.3 L750.7 319.7 L751.5 318.7 L752.3 319.0 L753.2 320.7 L754.1 323.1 L754.9 323.7 L755.6 324.1 L756.4 324.2 L757.1 324.8 L757.9 324.7 L758.6 325.3 L759.4 325.5 L760.1 325.6 L760.9 325.8 L761.7 326.4 L762.4 327.1 L763.2 329.1 L764.0 332.1 L764.9 328.7 L765.8 324.2 L766.6 322.5 L767.3 322.3 L768.1 320.4 L768.8 321.9 L769.6 321.5 L770.3 323.1 L771.2 324.1 L772.1 325.3 L772.9 328.0 L773.7 329.8 L774.5 332.2 L775.3 333.2 L776.2 333.7 L777.1 334.3 L778.0 335.7 L778.9 337.7 L779.6 338.1 L780.4 339.8 L781.1 340.0 L781.9 334.5 L782.7 329.8 L783.5 328.3 L784.3 326.5 L785.2 323.7 L786.1 321.9 L787.0 320.3 L787.9 318.6 L788.7 319.1 L789.4 317.8 L790.2 318.1 L790.9 319.3 L791.7 319.6 L792.4 320.4 L793.3 322.3 L794.2 323.1 L795.0 324.5 L795.8 325.3 L796.6 322.7 L797.4 320.8 L798.3 320.8 L799.2 319.7 L800.0 316.9 L800.7 314.1 L801.6 312.8 L802.5 312.9 L803.3 312.8 L804.1 314.1 L805.0 311.2 L805.9 308.4 L806.7 304.4 L807.5 300.5 L808.3 296.9 L809.1 293.8 L810.0 292.7 L810.9 292.7 L811.8 293.0 L812.7 293.8 L813.5 288.5 L814.3 283.7 L815.4 275.8 L816.1 275.7 L816.7 274.6 L817.6 264.5 L818.8 263.4 L819.9 282.5 L820.8 294.9 L821.5 291.4 L822.1 289.3 L823.0 289.1 L823.9 288.2 L824.8 288.1 L825.7 287.0 L826.4 286.4 L827.1 287.3 L827.8 286.6 L828.6 284.3 L829.3 281.4 L830.2 279.1 L831.2 275.8 L832.1 272.1 L833.0 269.0 L833.7 267.7 L834.5 266.8 L835.3 267.7 L836.1 269.0 L837.0 270.3 L837.9 270.1 L838.7 268.6 L839.5 266.8 L840.3 271.5 L841.1 276.6 L842.3 285.6 L843.4 275.5 L844.5 265.3 L845.4 264.3 L846.3 263.5 L847.1 261.9 L847.9 260.8 L848.7 260.4 L849.5 261.3 L850.1 257.1 L850.8 254.1 L851.6 255.1 L852.4 255.2 L853.2 253.8 L854.0 252.9 L854.9 254.1 L855.8 254.1 L856.7 252.0 L857.6 250.7 L858.4 248.7 L859.1 247.3 L859.9 247.5 L860.7 247.8 L861.6 246.0 L862.5 245.0 L863.4 244.3 L864.3 243.9 L865.2 243.8 L866.1 242.3 L867.0 245.9 L867.9 248.4 L868.8 248.5 L869.7 247.8 L870.6 249.4 L871.5 250.7 L872.3 252.0 L873.1 252.3 L873.8 250.4 L874.5 247.3 L875.3 241.7 L876.0 236.0 L876.7 232.4 L877.4 228.2 L878.1 225.3 L878.7 223.7 L879.4 221.2 L880.1 218.0 L880.8 214.6 L881.4 211.3 L882.1 212.2 L882.8 212.4 L883.5 214.3 L884.1 215.8 L885.0 219.1 L886.2 210.1 L887.3 202.3 L887.5 197.7 L888.4 189.6 L889.1 193.2 L889.8 186.9 L890.7 176.1 L891.6 167.9 L892.3 167.0 L892.9 166.7 L894.0 168.8 L894.9 165.2 L895.5 162.8 L896.1 161.6 L897.0 150.8 L897.9 141.8 L898.1 135.2 L899.2 130.5 L899.9 146.6 L900.7 161.6 L901.2 133.6 L902.3 115.5 L903.1 113.1 L903.9 106.8 L904.7 100.5 L905.6 96.6 L906.6 93.4 L907.2 98.9 L907.9 103.7 L908.3 113.9 L908.8 103.7 L909.4 94.2 L910.1 91.0 L910.7 94.2 L911.5 96.6 L912.1 93.4 L912.7 100.5 L913.4 105.2 L914.2 102.1 L915.0 98.9 L915.7 106.8 L916.2 114.7 L916.8 122.6 L917.5 130.5 L918.1 138.4 L918.9 144.7 L918.9 150.8 L919.4 167.9 L920.5 170.6 L921.6 176.1 L922.6 186.9 L923.5 195.9 L924.1 181.5 L925.0 183.3 L925.6 182.3 L926.2 182.4 L927.0 190.5 L927.7 199.5 L928.4 210.3 L928.5 213.5 L929.0 224.8 L930.1 229.3 L931.2 236.0 L932.4 233.8 L933.5 243.2 L934.6 229.3 L935.7 221.4 L936.6 220.0 L937.7 215.2 L938.9 208.1 L939.7 201.8 L940.5 199.9 L941.3 202.6 L942.1 208.1 L942.9 212.1 L943.6 216.4 L944.6 213.6 L945.6 208.1 L946.8 204.2 L947.7 208.9 L948.8 212.9 L949.8 213.6 L950.7 209.7 L951.5 212.9 L952.7 219.2 L953.3 213.6 L953.9 208.5 L955.1 208.0 L955.9 211.3 L956.7 216.0 L957.4 219.6 L958.4 220.3 L959.2 215.2 L960.0 210.5 L961.0 206.9 L961.9 202.6 L963.0 205.8 L963.7 209.7 L964.3 204.2 L964.9 200.6 L966.1 201.8 L967.1 205.8 L967.8 202.6 L968.7 209.7 L969.7 216.0 L970.0 222.5 L971.1 228.2 L972.2 236.0 L973.3 245.0 L974.5 258.6 L975.6 274.3 L976.3 281.1 L977.0 287.8 L977.6 291.6 L978.3 295.7 L979.0 290.4 L979.7 285.6 L980.3 279.2 L981.0 272.1 L981.7 266.0 L982.4 258.6 L983.0 254.3 L983.7 250.7 L984.4 248.6 L985.1 246.2 L985.7 242.5 L986.4 239.4 L987.5 248.4 L988.7 252.9 L989.8 245.0 L990.9 233.8 L991.6 231.6 L992.3 229.3 L992.9 230.3 L993.6 231.5 L994.3 232.2 L995.0 233.8 L996.1 254.1 L997.2 250.7 L998.3 243.9 L999.5 239.4 L1000.6 241.7 L1001.7 247.3 L1002.9 243.9 L1004.0 241.7 L1005.1 245.0 L1006.2 239.4 L1007.4 236.0 L1008.5 232.7 L1009.6 228.2 L1010.7 229.3 L1011.9 225.9 L1013.0 221.4 L1014.1 216.2" fill="none" stroke="#000" stroke-width="2.75" stroke-linejoin="round" stroke-linecap="round"/>
<text class="cape" x="523.2" y="210.6" textLength="186.5" lengthAdjust="spacingAndGlyphs">Current CAPE Level: 25.36x</text>
<text class="an" x="389.0" y="125.2" textLength="30.0" lengthAdjust="spacingAndGlyphs">(1929)</text>
<text class="an" x="389.0" y="139.0" textLength="86.0" lengthAdjust="spacingAndGlyphs">The Great Crash &amp;</text>
<text class="an" x="389.0" y="153.2" textLength="106.0" lengthAdjust="spacingAndGlyphs">Beginning of the Great</text>
<text class="an" x="389.0" y="167.6" textLength="52.5" lengthAdjust="spacingAndGlyphs">Depression</text>
<text class="an" x="905.3" y="84.1" textLength="125.3" lengthAdjust="spacingAndGlyphs">“Dot Com” Collapse (2001)</text>
<text class="an" x="967.9" y="153.9" textLength="30.0" lengthAdjust="spacingAndGlyphs">(2008)</text>
<text class="an" x="967.9" y="168.2" textLength="30.3" lengthAdjust="spacingAndGlyphs">Global</text>
<text class="an" x="967.9" y="182.4" textLength="41.8" lengthAdjust="spacingAndGlyphs">Financial</text>
<text class="an" x="967.9" y="196.6" textLength="24.5" lengthAdjust="spacingAndGlyphs">Crisis</text>
<text class="an" x="898.4" y="284.6" textLength="98.7" lengthAdjust="spacingAndGlyphs">Black Monday (1987)</text>
<text class="ttl" x="268.8" y="14.6" textLength="486" lengthAdjust="spacingAndGlyphs">Shiller's Cyclically Adjusted P/E Ratio is Approaching Dangerous Levels</text>
<text class="sub" x="354" y="33.3" textLength="316" lengthAdjust="spacingAndGlyphs">(Cyclically Adjusted Price Earnings Ratio, 1881 - 2014)</text>
<text class="ft" x="10.4" y="438.9" textLength="348" lengthAdjust="spacingAndGlyphs">Data Courtesy of Dr. Robert Shiller, Updated Jan 17, 2014</text>
<text class="ft" x="900.1" y="439.5" textLength="117.5" lengthAdjust="spacingAndGlyphs">Mauldin Economics</text>
</svg></body></html>
